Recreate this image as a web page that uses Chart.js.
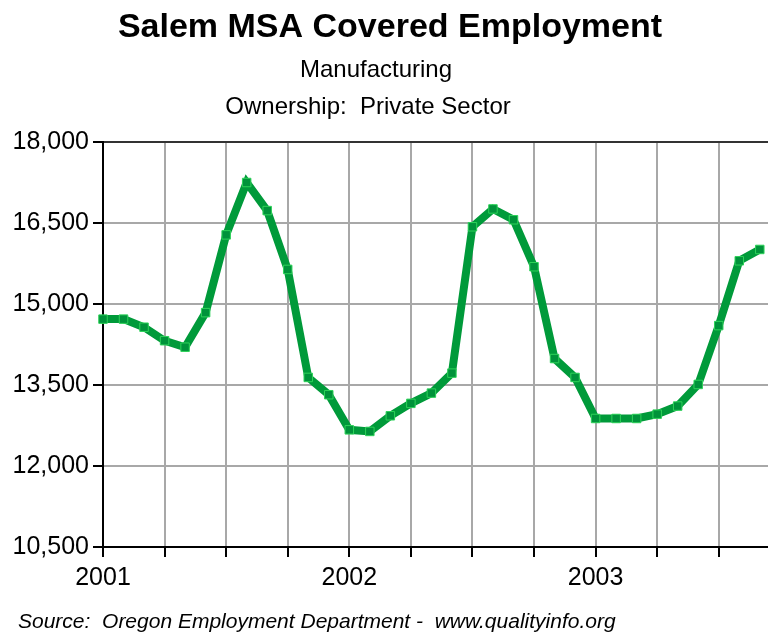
<!DOCTYPE html>
<html>
<head>
<meta charset="utf-8">
<script src="https://cdn.jsdelivr.net/npm/chart.js@4/dist/chart.umd.min.js"></script>
<style>
  html, body { margin: 0; padding: 0; background: #fff; }
  canvas { display: block; }
</style>
</head>
<body>
<canvas id="chart" width="768" height="633"></canvas>
<script>
// monthly data, Jan 2001 .. Sep 2003
const monthIndex = [0,1,2,3,4,5,6,7,8,9,10,11,12,13,14,15,16,17,18,19,20,21,22,23,24,25,26,27,28,29,30,31,32]
const employment = [14720,14720,14570,14320,14200,14840,16280,17250,16730,15640,13640,13320,
                    12670,12640,12930,13160,13350,13720,16430,16760,16560,15690,13990,13640,
                    12880,12880,12880,12960,13110,13510,14600,15800,16010]
const xTicks = [0,3,6,9,12,15,18,21,24,27,30]
const yTicks = [10500,12000,13500,15000,16500,18000]
const yearLabels = {0: "2001", 12: "2002", 24: "2003"}

const titleText = "Salem MSA Covered Employment"
const subTitles = ["Manufacturing", "Ownership:  Private Sector"]
const sourceText = "Source:  Oregon Employment Department -  www.qualityinfo.org"

const FONT = "'Liberation Sans', Arial, sans-serif"

const textPlugin = {
  id: "texts",
  afterDraw(chart) {
    const ctx = chart.ctx
    ctx.save()
    ctx.fillStyle = "#000"
    ctx.textBaseline = "middle"
    ctx.textAlign = "center"
    ctx.font = "bold 34px " + FONT
    ctx.fillText(titleText, 390, 28)
    ctx.font = "24px " + FONT
    ctx.fillText(subTitles[0], 376, 70)
    ctx.fillText(subTitles[1], 368, 107)
    ctx.textAlign = "left"
    ctx.font = "italic 21px " + FONT
    ctx.fillText(sourceText, 18, 622)
    ctx.restore()
  }
}

const config = {
  type: "line",
  data: {
    datasets: [{
      data: monthIndex.map((m, i) => ({ x: m, y: employment[i] })),
      borderColor: "#009a3a",
      borderWidth: 8,
      pointStyle: "rect",
      pointRadius: 6,
      pointBackgroundColor: "#00933a",
      pointBorderColor: "#2ed35a",
      pointBorderWidth: 1,
      tension: 0,
      clip: false,
    }]
  },
  options: {
    responsive: false,
    animation: false,
    devicePixelRatio: 1,
    layout: { autoPadding: false, padding: { top: 142, left: 0, right: 0, bottom: 0 } },
    plugins: {
      legend: { display: false },
      tooltip: { enabled: false },
    },
    scales: {
      x: {
        type: "linear",
        min: 0,
        max: 32.4,
        afterBuildTicks(scale) { scale.ticks = xTicks.map(v => ({ value: v })) },
        afterFit(scale) {
          scale.height = 86
          scale.paddingRight = 0
          scale.paddingLeft = 0
        },
        ticks: {
          maxRotation: 0,
          autoSkip: false,
          padding: 6,
          color: "#000",
          font: { family: FONT, size: 25 },
          callback: v => yearLabels[v] || "",
        },
        grid: { color: "#a8a8a8", lineWidth: 2, tickLength: 10, tickColor: "#000", tickWidth: 2 },
        border: { color: "#000", width: 2 },
      },
      y: {
        min: 10500,
        max: 18000,
        afterBuildTicks(scale) { scale.ticks = yTicks.map(v => ({ value: v })) },
        afterFit(scale) { scale.width = 103 },
        ticks: {
          padding: 4,
          color: "#000",
          font: { family: FONT, size: 25 },
          callback: v => v.toLocaleString("en-US"),
        },
        grid: {
          color: c => (c.tick && c.tick.value === 18000) ? "#333" : "#a8a8a8",
          lineWidth: 2, tickLength: 10, tickColor: "#000", tickWidth: 2,
        },
        border: { color: "#000", width: 2 },
      },
    },
  },
  plugins: [textPlugin],
}

new Chart(document.getElementById("chart"), config)
</script>
</body>
</html>
